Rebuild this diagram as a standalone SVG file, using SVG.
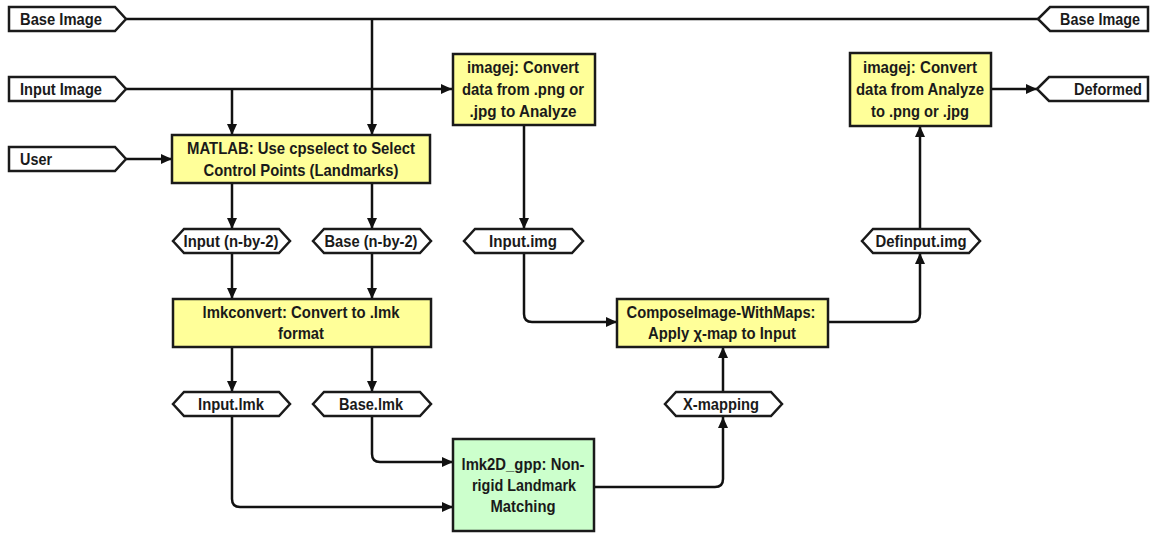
<svg xmlns="http://www.w3.org/2000/svg" width="1153" height="533" viewBox="0 0 1153 533">
<style>
text{font-family:"Liberation Sans",Arial,sans-serif;font-weight:bold;font-size:17px;fill:#1a1a1a}
.c{text-anchor:middle}
.e{text-anchor:end}
.box{stroke:#1a1a1a;stroke-width:2.5}
.proc{fill:#ffff99}
.grn{fill:#ccffcc}
.io{fill:#ffffff;stroke:#1a1a1a;stroke-width:2.5}
.ln{fill:none;stroke:#111;stroke-width:2.5}
</style>
<defs>
<marker id="ar" markerUnits="userSpaceOnUse" markerWidth="12" markerHeight="12" viewBox="0 0 12 12" refX="11" refY="6" orient="auto">
<path d="M0,1 L11,6 L0,11 Z" fill="#111"/>
</marker>
</defs>
<rect width="1153" height="533" fill="#ffffff"/>
<g id="connectors">
<path class="ln" d="M126,19 H1038"/>
<path class="ln" d="M126,89 H452" marker-end="url(#ar)"/>
<path class="ln" d="M372,19 V135" marker-end="url(#ar)"/>
<path class="ln" d="M232,89 V135" marker-end="url(#ar)"/>
<path class="ln" d="M126,159 H172" marker-end="url(#ar)"/>
<path class="ln" d="M232,183 V229" marker-end="url(#ar)"/>
<path class="ln" d="M372,183 V229" marker-end="url(#ar)"/>
<path class="ln" d="M232,253 V299" marker-end="url(#ar)"/>
<path class="ln" d="M372,253 V299" marker-end="url(#ar)"/>
<path class="ln" d="M232,347 V392" marker-end="url(#ar)"/>
<path class="ln" d="M372,347 V392" marker-end="url(#ar)"/>
<path class="ln" d="M232,416 V499 Q232,507 240,507 H453" marker-end="url(#ar)"/>
<path class="ln" d="M372,416 V454 Q372,462 380,462 H453" marker-end="url(#ar)"/>
<path class="ln" d="M594,487 H715 Q723,487 723,479 V417" marker-end="url(#ar)"/>
<path class="ln" d="M723,392 V347" marker-end="url(#ar)"/>
<path class="ln" d="M524,125 V229" marker-end="url(#ar)"/>
<path class="ln" d="M524,253 V314 Q524,322 532,322 H617" marker-end="url(#ar)"/>
<path class="ln" d="M828,322 H912 Q920,322 920,314 V253" marker-end="url(#ar)"/>
<path class="ln" d="M920,229 V126" marker-end="url(#ar)"/>
<path class="ln" d="M991,89 H1037" marker-end="url(#ar)"/>
</g>
<g id="base-image-in">
<polygon class="io" points="9,7 115,7 126,19 115,31 9,31"/>
<text x="20" y="25" textLength="82" lengthAdjust="spacingAndGlyphs">Base Image</text>
</g>
<g id="base-image-out">
<polygon class="io" points="1038,19 1050,7 1148,7 1148,31 1050,31"/>
<text x="1060" y="25" textLength="80" lengthAdjust="spacingAndGlyphs">Base Image</text>
</g>
<g id="input-image">
<polygon class="io" points="9,77 115,77 126,89 115,101 9,101"/>
<text x="20" y="95" textLength="82" lengthAdjust="spacingAndGlyphs">Input Image</text>
</g>
<g id="user">
<polygon class="io" points="9,147 115,147 126,159 115,171 9,171"/>
<text x="20" y="165" textLength="32" lengthAdjust="spacingAndGlyphs">User</text>
</g>
<g id="deformed">
<polygon class="io" points="1037,89 1049,77 1148,77 1148,101 1049,101"/>
<text x="1074" y="95" textLength="68" lengthAdjust="spacingAndGlyphs">Deformed</text>
</g>
<g id="matlab">
<rect class="box proc" x="172" y="135" width="258" height="48"/>
<text class="c" x="301" y="154" textLength="228" lengthAdjust="spacingAndGlyphs">MATLAB: Use cpselect to Select</text>
<text class="c" x="301" y="176" textLength="195" lengthAdjust="spacingAndGlyphs">Control Points (Landmarks)</text>
</g>
<g id="input-nby2">
<polygon class="io" points="173,241 184,229 279,229 290,241 279,253 184,253"/>
<text class="c" x="231" y="247" textLength="95" lengthAdjust="spacingAndGlyphs">Input (n-by-2)</text>
</g>
<g id="base-nby2">
<polygon class="io" points="313,241 324,229 420,229 431,241 420,253 324,253"/>
<text class="c" x="371" y="247" textLength="93" lengthAdjust="spacingAndGlyphs">Base (n-by-2)</text>
</g>
<g id="lmkconvert">
<rect class="box proc" x="173" y="299" width="258" height="48"/>
<text class="c" x="301" y="318" textLength="197" lengthAdjust="spacingAndGlyphs">lmkconvert: Convert to .lmk</text>
<text class="c" x="301" y="339" textLength="46" lengthAdjust="spacingAndGlyphs">format</text>
</g>
<g id="input-lmk">
<polygon class="io" points="173,404 184,392 279,392 290,404 279,416 184,416"/>
<text class="c" x="231" y="410" textLength="66" lengthAdjust="spacingAndGlyphs">Input.lmk</text>
</g>
<g id="base-lmk">
<polygon class="io" points="313,404 324,392 420,392 431,404 420,416 324,416"/>
<text class="c" x="371" y="410" textLength="64" lengthAdjust="spacingAndGlyphs">Base.lmk</text>
</g>
<g id="lmk2d">
<rect class="box grn" x="453" y="439" width="141" height="92"/>
<text class="c" x="523" y="470" textLength="123" lengthAdjust="spacingAndGlyphs">lmk2D_gpp: Non-</text>
<text class="c" x="524" y="491" textLength="104" lengthAdjust="spacingAndGlyphs">rigid Landmark</text>
<text class="c" x="523" y="512" textLength="65" lengthAdjust="spacingAndGlyphs">Matching</text>
</g>
<g id="x-mapping">
<polygon class="io" points="665,404 676,392 771,392 782,404 771,416 676,416"/>
<text class="c" x="721" y="410" textLength="76" lengthAdjust="spacingAndGlyphs">X-mapping</text>
</g>
<g id="imagej-in">
<rect class="box proc" x="453" y="54" width="142" height="71"/>
<text class="c" x="523" y="73" textLength="112" lengthAdjust="spacingAndGlyphs">imagej: Convert</text>
<text class="c" x="523" y="95" textLength="122" lengthAdjust="spacingAndGlyphs">data from .png or</text>
<text class="c" x="523" y="117" textLength="107" lengthAdjust="spacingAndGlyphs">.jpg to Analyze</text>
</g>
<g id="input-img">
<polygon class="io" points="464,241 475,229 572,229 583,241 572,253 475,253"/>
<text class="c" x="523" y="247" textLength="68" lengthAdjust="spacingAndGlyphs">Input.img</text>
</g>
<g id="compose">
<rect class="box proc" x="617" y="299" width="211" height="48"/>
<text class="c" x="721" y="318" textLength="189" lengthAdjust="spacingAndGlyphs">ComposeImage-WithMaps:</text>
<text class="c" x="722" y="339" textLength="148" lengthAdjust="spacingAndGlyphs">Apply χ-map to Input</text>
</g>
<g id="definput">
<polygon class="io" points="862,241 873,229 969,229 980,241 969,253 873,253"/>
<text class="c" x="921" y="247" textLength="91" lengthAdjust="spacingAndGlyphs">Definput.img</text>
</g>
<g id="imagej-out">
<rect class="box proc" x="850" y="53" width="141" height="73"/>
<text class="c" x="920" y="73" textLength="114" lengthAdjust="spacingAndGlyphs">imagej: Convert</text>
<text class="c" x="920" y="95" textLength="128" lengthAdjust="spacingAndGlyphs">data from Analyze</text>
<text class="c" x="920" y="117" textLength="98" lengthAdjust="spacingAndGlyphs">to .png or .jpg</text>
</g>
</svg>
